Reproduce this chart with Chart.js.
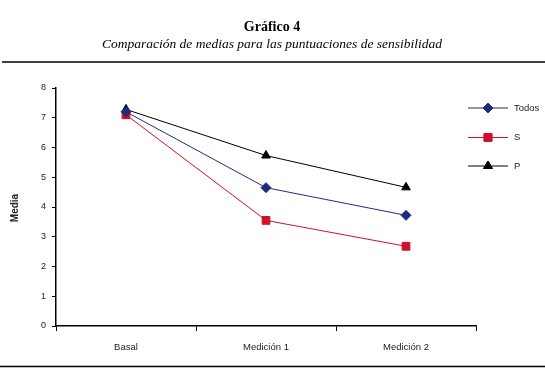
<!DOCTYPE html>
<html>
<head>
<meta charset="utf-8">
<script src="https://cdn.jsdelivr.net/npm/chart.js@4/dist/chart.umd.min.js"></script>
<style>
  html, body { margin: 0; padding: 0; background: #fff; }
  #wrap { position: relative; width: 545px; height: 372px; }
</style>
</head>
<body>
<div id="wrap"><canvas id="chart"></canvas></div>
<script>
// Data
var categories = ['Basal', 'Medición 1', 'Medición 2'];
var todos = [7.2, 4.65, 3.72];
var sGroup = [7.1, 3.55, 2.68];
var pGroup = [7.28, 5.73, 4.66];
var yTicks = [0, 1, 2, 3, 4, 5, 6, 7, 8];

var NAVY = '#1f2c7c';
var RED = '#d0102a';

// Titles, rules and the right-hand legend
var decor = {
    id: 'decor',
    afterDraw: function (chart) {
        var ctx = chart.ctx;
        ctx.save();
        ctx.fillStyle = '#000';
        ctx.textAlign = 'center';
        ctx.textBaseline = 'middle';
        ctx.font = 'bold 14px "Liberation Serif"';
        ctx.fillText('Gráfico 4', 272, 27);
        ctx.font = 'italic 13.5px "Liberation Serif"';
        ctx.fillText('Comparación de medias para las puntuaciones de sensibilidad', 272, 44);

        ctx.strokeStyle = '#000';
        ctx.lineWidth = 1.5;
        ctx.beginPath();
        ctx.moveTo(2, 62); ctx.lineTo(545, 62);
        ctx.moveTo(0, 366.5); ctx.lineTo(545, 366.5);
        ctx.stroke();

        // Y title
        ctx.save();
        ctx.translate(15, 208);
        ctx.rotate(-Math.PI / 2);
        ctx.font = 'bold 10px "Liberation Sans"';
        ctx.fillStyle = '#222';
        ctx.fillText('Media', 0, 0);
        ctx.restore();

        // Legend
        var rows = [108, 137.5, 166];
        chart.data.datasets.forEach(function (ds, i) {
            var y = rows[i];
            ctx.strokeStyle = ds.borderColor;
            ctx.lineWidth = 1;
            ctx.beginPath();
            ctx.moveTo(468, y); ctx.lineTo(508, y);
            ctx.stroke();
            Chart.helpers.drawPoint(ctx, {
                pointStyle: ds.pointStyle,
                radius: ds.pointRadius,
                rotation: ds.pointRotation || 0,
                borderWidth: 1
            }, 488, y);
            ctx.fillStyle = ds.pointBackgroundColor;
            ctx.strokeStyle = ds.pointBorderColor;
            ctx.fill();
            ctx.stroke();
            ctx.fillStyle = '#222';
            ctx.textAlign = 'left';
            ctx.font = '9.5px "Liberation Sans"';
            ctx.fillText(ds.label, 514, y);
        });
        ctx.restore();
    }
};

new Chart(document.getElementById('chart').getContext('2d'), {
    type: 'line',
    data: {
        labels: categories,
        datasets: [
            {
                label: 'Todos',
                data: todos,
                borderColor: NAVY,
                borderWidth: 1,
                pointStyle: 'rectRot',
                pointRadius: 5,
                pointBackgroundColor: NAVY,
                pointBorderColor: NAVY
            },
            {
                label: 'S',
                data: sGroup,
                borderColor: RED,
                borderWidth: 1,
                pointStyle: 'rect',
                pointRadius: 5.5,
                pointBackgroundColor: RED,
                pointBorderColor: RED
            },
            {
                label: 'P',
                data: pGroup,
                borderColor: '#000',
                borderWidth: 1,
                pointStyle: 'triangle',
                pointRadius: 5,
                pointBackgroundColor: '#000',
                pointBorderColor: '#000'
            }
        ]
    },
    options: {
        responsive: true,
        maintainAspectRatio: false,
        animation: false,
        layout: { padding: { top: 88, right: 69, bottom: 0, left: 0 } },
        plugins: {
            legend: { display: false },
            tooltip: { enabled: false }
        },
        scales: {
            x: {
                offset: true,
                afterFit: function (axis) { axis.height = 46; },
                grid: {
                    offset: true,
                    drawOnChartArea: false,
                    color: '#000',
                    tickLength: 5
                },
                border: { color: '#000', width: 1.5 },
                ticks: {
                    color: '#222',
                    padding: 11,
                    font: { family: 'Liberation Sans', size: 9.5 }
                }
            },
            y: {
                min: 0,
                max: 8,
                afterFit: function (axis) { axis.width = 56; },
                afterBuildTicks: function (axis) {
                    axis.ticks = yTicks.map(function (v) { return { value: v }; });
                },
                grid: {
                    drawOnChartArea: false,
                    color: '#000',
                    tickLength: 4
                },
                border: { color: '#000', width: 1.5 },
                ticks: {
                    color: '#222',
                    padding: 6,
                    font: { family: 'Liberation Sans', size: 9 }
                }
            }
        }
    },
    plugins: [decor]
});
</script>
</body>
</html>
